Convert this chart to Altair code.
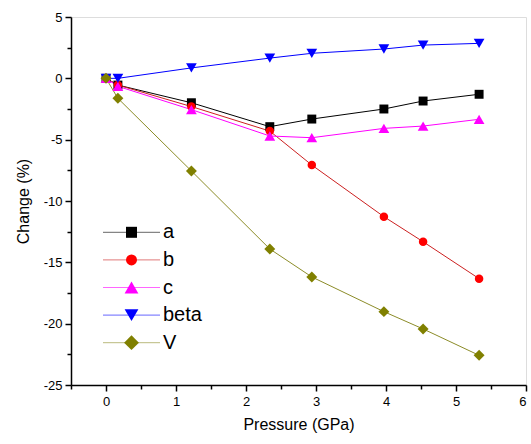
import altair as alt
import pandas as pd

# Lattice-parameter change versus pressure
pressure = [0, 0.17, 1.22, 2.34, 2.94, 3.97, 4.53, 5.33]
a_vals = [0, -0.55, -1.99, -3.94, -3.32, -2.50, -1.85, -1.30]
b_vals = [0, -0.55, -2.30, -4.30, -7.07, -11.28, -13.32, -16.33]
c_vals = [0, -0.65, -2.55, -4.70, -4.84, -4.08, -3.89, -3.34]
beta_vals = [0, 0.0, 0.85, 1.65, 2.04, 2.39, 2.71, 2.85]
v_vals = [0, -1.63, -7.55, -13.91, -16.19, -19.02, -20.43, -22.58]

series_names = ["a", "b", "c", "beta", "V"]
marker_colors = ["#000000", "#ff0000", "#ff00ff", "#0000ff", "#808000"]
line_colors = ["#000000", "#cc2020", "#ff00ff", "#0000ff", "#8c8c28"]
marker_shapes = ["square", "circle", "triangle-up", "triangle-down", "diamond"]
marker_sizes = [80, 72, 115, 115, 120]
legend_marker_sizes = [121, 120, 190, 190, 220]

x_ticks = [0, 1, 2, 3, 4, 5, 6]
x_minor = [-0.5, 0.5, 1.5, 2.5, 3.5, 4.5, 5.5]
y_ticks = [-25, -20, -15, -10, -5, 0, 5]
y_minor = [-22.5, -17.5, -12.5, -7.5, -2.5, 2.5]

rows = []
for name, vals in zip(series_names, [a_vals, b_vals, c_vals, beta_vals, v_vals]):
    for p, v in zip(pressure, vals):
        rows.append({"series": name, "pressure": p, "change": v})
df = pd.DataFrame(rows)
legend_df = pd.DataFrame({"series": series_names})

FONT = "Liberation Sans"
x_dom = [-0.5, 6]
y_dom = [-25, 5]

marker_color = alt.Scale(domain=series_names, range=marker_colors)
line_color = alt.Scale(domain=series_names, range=line_colors)

major_x = alt.Axis(values=x_ticks, title="Pressure (GPa)", orient="bottom",
                   tickSize=6, tickWidth=1.5, domainWidth=1.5, domainColor="black",
                   tickColor="black", labelFontSize=13, labelColor="black",
                   labelFont=FONT, titleFont=FONT, titleFontSize=16,
                   titleFontWeight="normal", titleColor="black", labelPadding=4,
                   titlePadding=8, grid=False, labelExpr="'' + datum.value")
major_y = alt.Axis(values=y_ticks, title="Change (%)", orient="left",
                   tickSize=6, tickWidth=1.5, domainWidth=1.5, domainColor="black",
                   tickColor="black", labelFontSize=13, labelColor="black",
                   labelFont=FONT, titleFont=FONT, titleFontSize=16,
                   titleFontWeight="normal", titleColor="black", labelPadding=3,
                   titlePadding=12, grid=False, labelExpr="'' + datum.value")
minor_x = alt.Axis(values=x_minor, title=None, orient="bottom", labels=False,
                   tickSize=4, tickWidth=1.5, domain=False, tickColor="black", grid=False)
minor_y = alt.Axis(values=y_minor, title=None, orient="left", labels=False,
                   tickSize=4, tickWidth=1.5, domain=False, tickColor="black", grid=False)


def x_enc(ax):
    return alt.X("pressure:Q", scale=alt.Scale(domain=x_dom, nice=False, zero=False), axis=ax)


def y_enc(ax):
    return alt.Y("change:Q", scale=alt.Scale(domain=y_dom, nice=False, zero=False), axis=ax)


minor_layer = alt.Chart(df).mark_point(size=0, opacity=0).encode(
    x=x_enc(minor_x), y=y_enc(minor_y),
)

lines = alt.Chart(df).mark_line(strokeWidth=1).encode(
    x=x_enc(major_x), y=y_enc(major_y),
    stroke=alt.Stroke("series:N", scale=line_color, legend=None),
    detail="series:N",
)

# one marker layer per series, each with its own symbol and size
markers = [
    alt.Chart(df).transform_filter(alt.datum.series == name)
    .mark_point(filled=True, opacity=1, shape=shp, size=sz)
    .encode(
        x=x_enc(None), y=y_enc(None),
        color=alt.Color("series:N", scale=marker_color, legend=None),
    )
    for name, shp, sz in zip(series_names, marker_shapes, marker_sizes)
]

# legend block in the lower-left of the plot
leg_y = alt.Y("series:N", axis=None,
              scale=alt.Scale(type="point", domain=series_names, range=[215.3, 325.7], padding=0))

legend_lines = alt.Chart(legend_df).mark_rule(strokeWidth=1, opacity=0.6).encode(
    x=alt.value(32), x2=alt.value(89), y=leg_y,
    stroke=alt.Stroke("series:N", scale=line_color, legend=None),
)

legend_markers = [
    alt.Chart(legend_df).transform_filter(alt.datum.series == name)
    .mark_point(filled=True, opacity=1, shape=shp, size=sz)
    .encode(
        x=alt.value(60.5), y=leg_y,
        color=alt.Color("series:N", scale=marker_color, legend=None),
    )
    for name, shp, sz in zip(series_names, marker_shapes, legend_marker_sizes)
]

legend_labels = alt.Chart(legend_df).mark_text(
    align="left", baseline="middle", font=FONT, fontSize=20, color="black"
).encode(
    x=alt.value(92), y=leg_y, text="series:N",
)

chart = alt.layer(
    minor_layer, lines, *markers, legend_lines, *legend_markers, legend_labels
).resolve_scale(
    y="independent"
).resolve_axis(
    x="independent", y="independent"
).properties(
    width=455, height=368,
    autosize=alt.AutoSizeParams(type="none"),
    padding={"left": 71, "top": 17, "right": 5, "bottom": 59},
).configure_view(
    stroke="black", strokeWidth=1.5
).configure(background="white")

chart.save("out.html", embed_options={"renderer": "svg", "actions": False})
